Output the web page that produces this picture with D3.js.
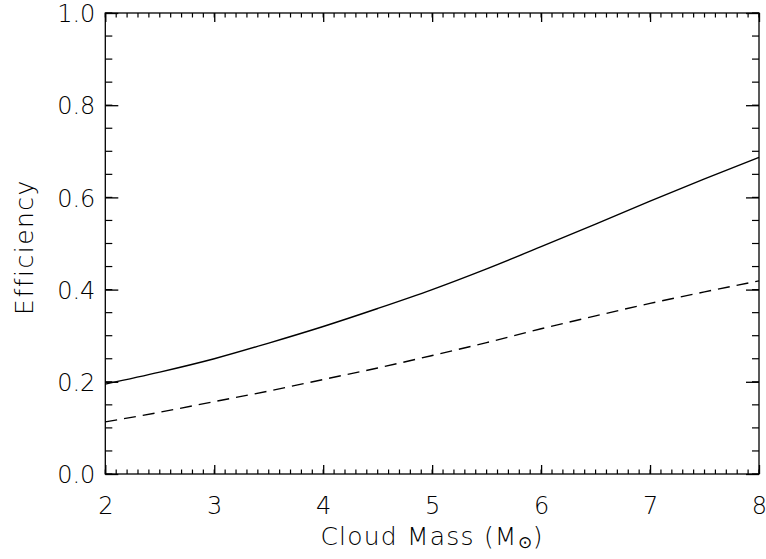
<!DOCTYPE html>
<html>
<head>
<meta charset="utf-8">
<script src="https://cdn.jsdelivr.net/npm/d3@7"></script>
<style>
  body { margin: 0; background: white; }
  text { font-family: "DejaVu Sans", sans-serif; font-weight: 200; fill: #000; }
</style>
</head>
<body>
<div id="chart"></div>
<script>
// values
const mass = [2, 2.5, 3, 3.5, 4, 4.5, 5, 5.5, 6, 6.5, 7, 7.5, 8];
const effSolid = [0.195, 0.221, 0.250, 0.284, 0.320, 0.359, 0.400, 0.445, 0.493, 0.542, 0.592, 0.640, 0.687];
const effDashed = [0.113, 0.134, 0.157, 0.180, 0.205, 0.230, 0.257, 0.285, 0.315, 0.343, 0.370, 0.395, 0.419];
const xTicks = [2, 3, 4, 5, 6, 7, 8];
const yTicks = [0.0, 0.2, 0.4, 0.6, 0.8, 1.0];

const Width = 766;
const Height = 559;
const MarginLeft = 105.3;
const MarginRight = 7;
const MarginTop = 13;
const MarginBottom = 85;

const svg = d3.select("#chart").append("svg")
  .attr("width", Width).attr("height", Height);

const x = d3.scaleLinear().domain([2, 8]).range([MarginLeft, Width - MarginRight]);
const y = d3.scaleLinear().domain([0, 1]).range([Height - MarginBottom, MarginTop]);

const bottom = Height - MarginBottom;
const right = Width - MarginRight;

const xMinor = d3.range(0, 61).map(i => 2 + i / 10);
const yMinor = d3.range(0, 21).map(i => i / 20);

// frame
svg.append("rect")
  .attr("x", MarginLeft).attr("y", MarginTop)
  .attr("width", right - MarginLeft).attr("height", bottom - MarginTop)
  .attr("fill", "none").attr("stroke", "#000").attr("stroke-width", 1.3);

// minor ticks, all four sides, pointing inwards
const minor = svg.append("g").attr("stroke", "#000").attr("stroke-width", 1.2);
minor.selectAll("line.xb").data(xMinor).enter().append("line").attr("class", "xb")
  .attr("x1", d => x(d)).attr("x2", d => x(d)).attr("y1", bottom).attr("y2", bottom - 4.5);
minor.selectAll("line.xt").data(xMinor).enter().append("line").attr("class", "xt")
  .attr("x1", d => x(d)).attr("x2", d => x(d)).attr("y1", MarginTop).attr("y2", MarginTop + 4.5);
minor.selectAll("line.yl").data(yMinor).enter().append("line").attr("class", "yl")
  .attr("y1", d => y(d)).attr("y2", d => y(d)).attr("x1", MarginLeft).attr("x2", MarginLeft + 7);
minor.selectAll("line.yr").data(yMinor).enter().append("line").attr("class", "yr")
  .attr("y1", d => y(d)).attr("y2", d => y(d)).attr("x1", right).attr("x2", right - 7);

// major ticks via axes
function majorAxis(axisFn, scale, ticks, size, transform, fmt) {
  const g = svg.append("g").attr("transform", transform)
    .call(axisFn(scale).tickValues(ticks).tickSize(size).tickSizeOuter(0)
      .tickFormat(fmt ? fmt : () => ""));
  g.select(".domain").remove();
  g.selectAll("line").attr("stroke", "#000").attr("stroke-width", 1.3);
  return g;
}

const gx = majorAxis(d3.axisTop, x, xTicks, 9, `translate(0,${bottom})`, d3.format("d"));
gx.selectAll("text").attr("y", 0).attr("dy", 0)
  .attr("transform", "translate(0,40)").style("font-size", "24px");
majorAxis(d3.axisBottom, x, xTicks, 9, `translate(0,${MarginTop})`, null);

const gy = majorAxis(d3.axisRight, y, yTicks, 13, `translate(${MarginLeft},0)`, d3.format(".1f"));
gy.selectAll("text").attr("x", -10).attr("text-anchor", "end").attr("dy", "0.36em")
  .style("font-size", "24px");
majorAxis(d3.axisLeft, y, yTicks, 13, `translate(${right},0)`, null);

// lines
const line = d3.line().curve(d3.curveMonotoneX);

svg.append("path")
  .attr("d", line(mass.map((m, i) => [x(m), y(effSolid[i])])))
  .attr("fill", "none").attr("stroke", "#000").attr("stroke-width", 1.4);

svg.append("path")
  .attr("d", line(mass.map((m, i) => [x(m), y(effDashed[i])])))
  .attr("fill", "none").attr("stroke", "#000").attr("stroke-width", 1.4)
  .attr("stroke-dasharray", "12,7");

// axis titles
const xt = svg.append("text")
  .attr("x", (MarginLeft + right) / 2).attr("y", 545)
  .attr("text-anchor", "middle").style("font-size", "25px").style("letter-spacing", "1.2px");
xt.append("tspan").text("Cloud Mass (M");
xt.append("tspan").text("\u2299").style("font-size", "17px").attr("dy", 3);
xt.append("tspan").text(")").attr("dy", -3);

svg.append("text")
  .attr("transform", `translate(33,247) rotate(-90)`)
  .attr("text-anchor", "middle").style("font-size", "25px").style("letter-spacing", "1.5px")
  .text("Efficiency");
</script>
</body>
</html>
